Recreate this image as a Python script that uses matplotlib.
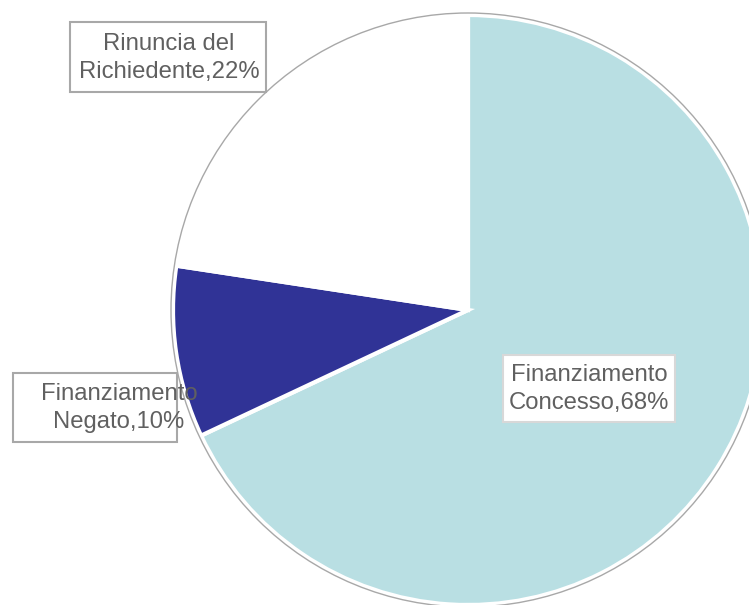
import matplotlib.pyplot as plt
from matplotlib.patches import Rectangle, Circle

plt.rcParams['font.family'] = ['Liberation Sans', 'DejaVu Sans']

# slice data, clockwise from 12 o'clock
categories = ['Finanziamento Concesso', 'Finanziamento Negato', 'Rinuncia del Richiedente']
values = [68.0, 9.4, 22.6]
labels = ['Finanziamento\nConcesso,68%', 'Finanziamento\nNegato,10%', 'Rinuncia del\nRichiedente,22%']
colors = ['#b9dfe3', '#303396', '#ffffff']

# label boxes (pixel coords, y from top): text centre and box x0, y0, x1, y1
text_pos = [(589, 389), (119, 408), (169, 58)]
boxes = [(503, 355, 675, 422), (13, 373, 177, 442), (70, 22, 266, 92)]
box_edges = ['#d8d8d8', '#a8a8a8', '#a8a8a8']

W, H = 749, 605
cx, cy, r = 468, 310, 295

fig = plt.figure(figsize=(W / 100, H / 100), dpi=100)
ax = fig.add_axes([0, 0, 1, 1])

ax.pie(values, colors=colors, startangle=90, counterclock=False,
       center=(cx, H - cy), radius=r,
       wedgeprops=dict(edgecolor='white', linewidth=3))
ax.add_patch(Circle((cx, H - cy), r + 2, fill=False, ec='#a8a8a8', lw=1, zorder=3))

for (x0, y0, x1, y1), ec in zip(boxes, box_edges):
    ax.add_patch(Rectangle((x0, H - y1), x1 - x0, y1 - y0, fc='white', ec=ec, lw=1.5, zorder=4))

for (tx, ty), lab in zip(text_pos, labels):
    ax.text(tx, H - ty, lab, ha='center', va='center', fontsize=17.2,
            color='#606060', linespacing=1.33, zorder=5)

ax.set_xlim(0, W)
ax.set_ylim(0, H)
ax.set_aspect('equal')
ax.axis('off')

fig.savefig('out.png', dpi=100)
